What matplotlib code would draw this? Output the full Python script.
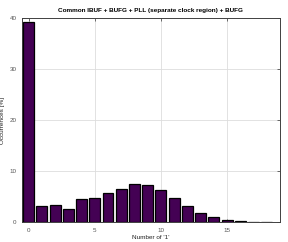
import numpy as np
import matplotlib
matplotlib.use('Agg')
import matplotlib.pyplot as plt

plt.rcParams['font.family'] = ['Liberation Sans', 'DejaVu Sans']

# number of '1' bits vs occurrence [%]
n_ones = list(range(19))
occurrences = [39.3, 3.2, 3.4, 2.5, 4.45, 4.8, 5.65, 6.5, 7.4, 7.25,
               6.3, 4.7, 3.2, 1.8, 0.9, 0.4, 0.15, 0.05, 0.02]
x_ticks = [0, 5, 10, 15]
y_ticks = [0, 10, 20, 30, 40]

fig = plt.figure(figsize=(2.88, 2.42), dpi=100)
ax = fig.add_axes([22/288, 1 - 222/242, (280 - 22)/288, (222 - 18)/242])

ax.bar(n_ones, occurrences, width=0.82, color='#440154', edgecolor='black',
       linewidth=0.9, zorder=3)

ax.set_xlim(-0.5, 19)
ax.set_ylim(0, 40)
ax.set_xticks(x_ticks)
ax.set_yticks(y_ticks)
ax.grid(True, color='#dddddd', linewidth=0.6, zorder=0)
ax.tick_params(direction='in', top=True, right=True, labelsize=4.5,
               length=2, width=0.5, colors='#333333', labelcolor='#555555', pad=4)
for s in ax.spines.values():
    s.set_color('#404040')
    s.set_linewidth(0.7)

ax.set_title("Common IBUF + BUFG + PLL (separate clock region) + BUFG",
             fontsize=4.6, fontweight='bold', pad=4.5)
ax.set_xlabel("Number of '1'", fontsize=4.6, labelpad=2, color='#222222')
ax.set_ylabel("Occurrences [%]", fontsize=4.6, labelpad=3, color='#222222')

fig.savefig('out.png', dpi=100)
